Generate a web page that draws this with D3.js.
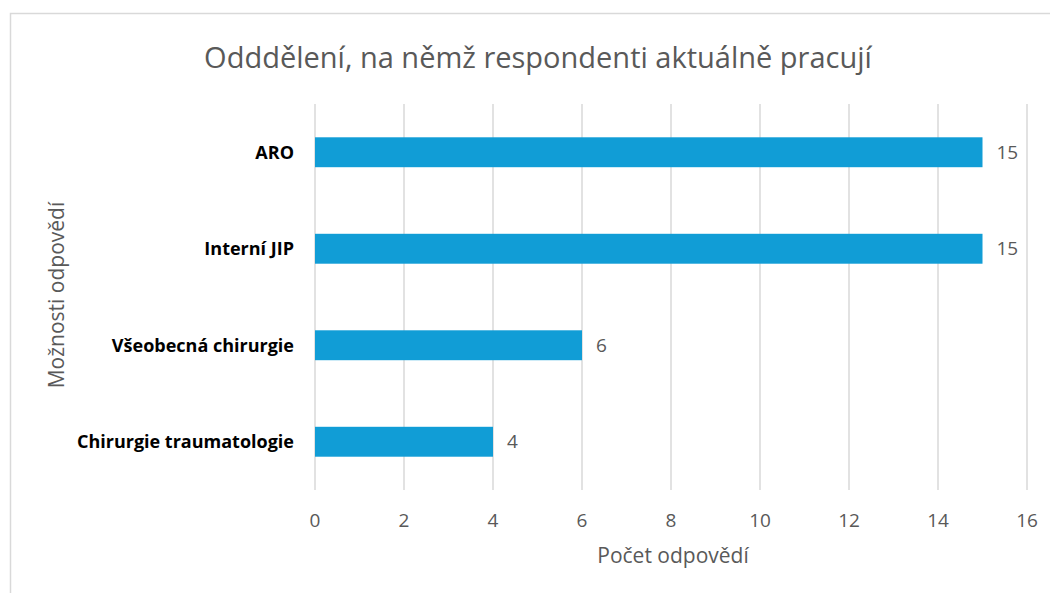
<!DOCTYPE html>
<html>
<head>
<meta charset="utf-8">
<script src="https://cdn.jsdelivr.net/npm/d3@7"></script>
<style>
  body { margin: 0; background: #fff; }
  text { font-family: "Open Sans", "Noto Sans", sans-serif; }
</style>
</head>
<body>
<div id="chart"></div>
<script>
// data
var categories = ["ARO", "Interní JIP", "Všeobecná chirurgie", "Chirurgie traumatologie"]
var values = [15, 15, 6, 4]
var xTicks = [0, 2, 4, 6, 8, 10, 12, 14, 16]

var width = 1050
var height = 593
var margin = { top: 104, right: 23, bottom: 103, left: 315 }

var svg = d3.select("#chart")
    .append("svg")
    .attr("width", width)
    .attr("height", height)

// outer frame
svg.append("rect")
    .attr("x", 10.5)
    .attr("y", 13.5)
    .attr("width", width)
    .attr("height", height)
    .attr("fill", "none")
    .attr("stroke", "#d9d9d9")
    .attr("stroke-width", 1.5)

var x = d3.scaleLinear()
    .domain([0, 16])
    .range([margin.left, width - margin.right])

var y = d3.scaleBand()
    .domain(categories)
    .range([margin.top, height - margin.bottom])
    .paddingInner(0.69)
    .paddingOuter(0.345)

// gridlines
svg.append("g")
    .selectAll("line")
    .data(xTicks)
    .join("line")
    .attr("x1", d => x(d))
    .attr("x2", d => x(d))
    .attr("y1", margin.top)
    .attr("y2", height - margin.bottom)
    .attr("stroke", "#d9d9d9")
    .attr("stroke-width", 1.5)

// bars
svg.append("g")
    .selectAll("rect")
    .data(values)
    .join("rect")
    .attr("x", x(0))
    .attr("y", (d, i) => y(categories[i]))
    .attr("width", d => x(d) - x(0))
    .attr("height", y.bandwidth())
    .attr("fill", "#119dd6")

// value labels
svg.append("g")
    .selectAll("text")
    .data(values)
    .join("text")
    .attr("x", d => x(d) + 14)
    .attr("y", (d, i) => y(categories[i]) + y.bandwidth() / 2)
    .attr("dy", "0.35em")
    .attr("font-size", 19)
    .attr("fill", "#595959")
    .text(d => d)

// category labels
svg.append("g")
    .selectAll("text")
    .data(categories)
    .join("text")
    .attr("x", 294)
    .attr("y", d => y(d) + y.bandwidth() / 2)
    .attr("dy", "0.35em")
    .attr("text-anchor", "end")
    .attr("font-size", 18)
    .attr("font-weight", "bold")
    .attr("fill", "#000")
    .text(d => d)

// x tick labels
svg.append("g")
    .selectAll("text")
    .data(xTicks)
    .join("text")
    .attr("x", d => x(d))
    .attr("y", 520)
    .attr("dy", "0.35em")
    .attr("text-anchor", "middle")
    .attr("font-size", 19)
    .attr("fill", "#595959")
    .text(d => d)

// title
svg.append("text")
    .attr("x", 538)
    .attr("y", 68)
    .attr("text-anchor", "middle")
    .attr("font-size", 29)
    .attr("fill", "#595959")
    .text("Odddělení, na němž respondenti aktuálně pracují")

// axis titles
svg.append("text")
    .attr("x", 673)
    .attr("y", 563)
    .attr("text-anchor", "middle")
    .attr("font-size", 21)
    .attr("fill", "#595959")
    .text("Počet odpovědí")

svg.append("text")
    .attr("transform", "translate(64,295) rotate(-90)")
    .attr("text-anchor", "middle")
    .attr("font-size", 21)
    .attr("fill", "#595959")
    .text("Možnosti odpovědí")
</script>
</body>
</html>
